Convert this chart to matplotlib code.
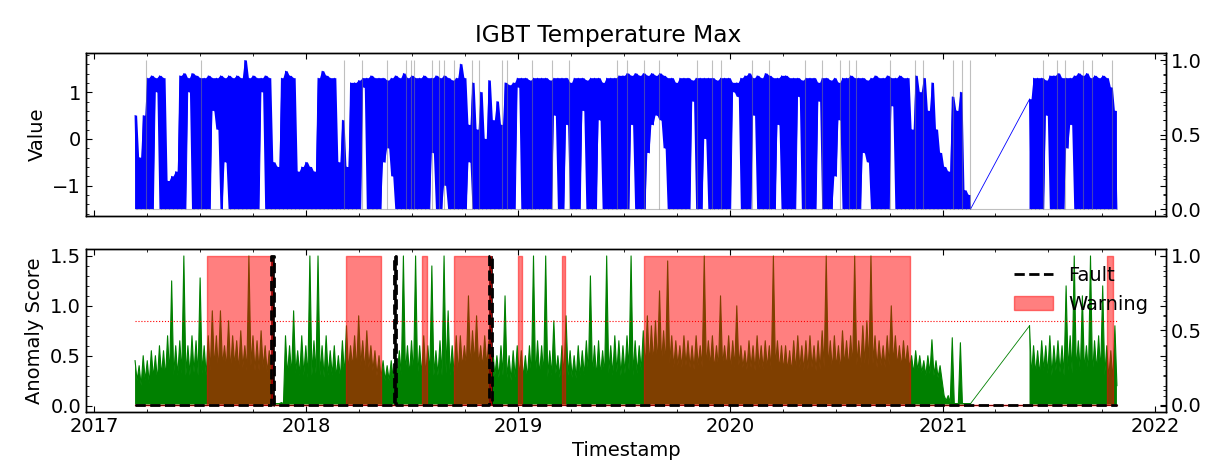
import matplotlib
matplotlib.use("Agg")
import matplotlib.pyplot as plt
import matplotlib.dates as mdates
from matplotlib.ticker import MultipleLocator, AutoMinorLocator
import pandas as pd

# weekly readings of the plot (None = no data, the line jumps over the gap)
first_week = "2017-03-12"

# IGBT temperature max, top and bottom of each week's swing
value_hi = [0.5, -0.4, 0.5, 1.3, 1.35, 1.3, 1.35, 1.3, -0.9, -0.8,
            -0.7, 1.35, 1.4, 1.3, 1.4, 1.35, 1.3, 1.3, 1.35, 1.3,
            1.3, 1.35, 1.3, 1.35, 1.3, 1.35, 1.3, 1.68, 1.3, 1.35,
            1.3, 1.3, 1.35, 1.3, -0.5, -0.6, 1.3, 1.45, 1.35, 1.3,
            -0.7, -0.6, -0.5, -0.6, -0.7, 1.3, 1.45, 1.35, 1.3, 1.3,
            -0.5, 0.4, -0.6, 1.2, 1.2, 1.25, 1.3, 1.3, 1.35, 1.3,
            1.3, 1.3, 1.25, 1.3, 1.35, 1.3, 1.4, 1.3, 1.35, 1.3,
            1.3, 1.35, 1.3, 1.3, 1.35, 1.3, 1.35, 1.3, 1.25, 1.3,
            1.6, 1.3, 0.3, 1.2, 0.2, 1.0, 0.0, 1.25, 0.4, 0.8,
            0.3, 1.2, 1.15, 1.2, 1.3, 1.3, 1.3, 1.25, 1.3, 1.3,
            1.3, 1.3, 1.25, 1.3, 1.3, 1.3, 1.3, 1.2, 1.3, 1.3,
            1.3, 1.25, 1.3, 1.3, 1.3, 1.2, 1.3, 1.3, 1.3, 1.35,
            1.35, 1.4, 1.35, 1.4, 1.35, 1.4, 1.35, 1.4, 1.35, 1.4,
            1.35, 1.3, 1.3, 1.2, 1.3, 1.3, 1.3, 1.25, 1.3, 1.3,
            1.3, 1.3, 1.3, 1.25, 1.3, 1.3, 1.3, 1.2, 1.2, 1.3,
            1.35, 1.4, 1.3, 1.35, 1.3, 1.4, 1.35, 1.3, 1.3, 1.35,
            1.35, 1.3, 1.3, 1.3, 1.25, 1.3, 1.3, 1.3, 1.2, 1.3,
            1.3, 1.25, 1.3, 1.2, 1.3, 1.3, 1.35, 1.3, 1.3, 1.3,
            1.25, 1.3, 1.35, 1.3, 1.3, 1.35, 1.3, 1.3, 1.35, 1.3,
            1.3, 0.2, 1.35, 1.0, 1.3, 0.6, 1.2, 0.2, -0.3, -0.6,
            -0.7, 0.9, 0.6, 1.0, -1.1, -1.2,
            None, None, None, None, None, None, None, None, None, None, None, None, None, None,
            0.85, 1.3, 1.3, 1.3, 1.25, 1.35, 1.35, 1.4, 1.3, 1.3,
            1.3, 1.35, 1.4, 1.35, 1.4, 1.3, 1.35, 1.3, 1.35, 1.3, 1.1, 0.6]

value_lo = [-1.5, -1.5, -1.5, -1.5, -1.5, 1.0, -1.5, -1.5, -1.5, -1.5,
            -1.5, -1.5, -1.5, 1.0, -1.5, -1.5, -1.5, -1.5, -1.5, 0.6,
            0.2, -1.5, -0.5, -1.5, -1.5, -1.5, -1.5, -1.5, -1.5, -1.5,
            -1.5, 1.0, -1.5, -1.5, -1.5, -1.5, -1.5, -1.5, -1.5, -1.5,
            -1.5, -1.5, -1.5, -1.5, -1.5, -1.5, -1.5, -1.5, -1.5, -1.5,
            -1.5, -1.5, -1.5, -1.5, -1.5, -1.5, 1.1, -1.5, -1.5, -1.5,
            -1.5, -0.5, -0.2, -0.8, -1.5, -1.5, -1.5, -1.5, -1.5, -1.5,
            -1.5, -1.5, -1.5, -0.3, -1.5, -1.5, -1.0, -1.5, -1.5, -1.5,
            -1.5, -1.5, -0.5, -1.5, -1.5, -1.5, -1.5, -1.5, -1.5, -1.5,
            -1.5, -1.5, -1.5, -1.5, 1.1, -1.5, -1.5, -1.5, -1.5, -1.5,
            -1.5, -1.5, -1.5, 0.5, -1.5, -1.5, 0.3, -1.5, -1.5, -1.5,
            0.6, -1.5, -1.5, -1.5, 0.4, -1.5, -1.5, -1.5, -1.5, -1.5,
            -1.5, -1.5, 0.3, -1.5, -1.5, -1.5, -0.3, 0.3, 0.5, 0.4,
            -0.2, -1.5, -1.5, -1.5, -1.5, -1.5, -1.5, 0.8, -1.5, -1.5,
            0.0, -1.5, -1.5, -1.5, -1.5, -1.5, -1.5, 1.0, 0.9, -1.5,
            -1.5, -1.5, 0.5, -1.5, -1.5, -1.5, -1.5, -1.5, 0.3, -1.5,
            -1.5, -1.5, -1.5, 0.9, -1.5, -1.5, -1.5, -1.5, 0.8, -1.5,
            -1.5, -1.5, -0.8, 0.4, -1.5, -1.5, -1.5, -1.5, -1.5, -0.3,
            -0.5, -1.5, -1.5, -1.5, -1.5, -1.5, 0.7, -1.5, -1.5, -1.5,
            -1.5, -1.5, -1.5, -1.5, -1.5, -1.5, -1.5, -1.5, -1.5, -1.5,
            -1.5, -1.5, -1.5, -1.5, -1.5, -1.5,
            None, None, None, None, None, None, None, None, None, None, None, None, None, None,
            -1.5, -1.5, -1.5, -1.5, 0.5, -1.5, -1.5, -1.5, -1.5, -0.2,
            0.3, -1.5, -1.5, -1.5, -1.5, -1.5, -1.5, -1.5, -1.5, -1.5, -1.5, -1.5]

# anomaly score: weekly peaks and top of the dense core; floor of the trace
score_hi = [0.45, 0.4, 0.5, 0.45, 0.55, 0.5, 0.6, 0.55, 0.7, 1.25,
            0.6, 0.65, 1.5, 0.6, 0.7, 0.65, 1.28, 0.6, 0.7, 0.95,
            0.7, 0.95, 0.6, 0.85, 0.7, 0.65, 0.75, 0.6, 1.5, 0.7,
            0.65, 0.75, 0.6, 0.55, 0.02, 0.02, 0.03, 0.7, 0.6, 0.95,
            0.55, 0.7, 0.6, 1.5, 0.65, 1.5, 0.6, 0.7, 0.55, 0.6,
            0.5, 0.65, 0.8, 0.6, 0.7, 0.9, 0.65, 0.75, 0.6, 0.55,
            0.5, 0.45, 0.4, 0.45, 0.5, 0.55, 1.5, 0.6, 0.65, 1.5,
            0.6, 0.7, 0.6, 1.4, 0.55, 0.65, 1.5, 0.95, 0.6, 0.7,
            0.7, 0.6, 1.1, 0.75, 0.9, 0.6, 0.7, 0.65, 0.55, 0.5,
            0.6, 1.1, 0.5, 0.55, 0.6, 0.55, 0.5, 0.6, 1.5, 0.65,
            0.6, 1.5, 0.55, 0.85, 0.5, 0.6, 0.9, 0.55, 0.5, 0.6,
            0.55, 0.65, 1.3, 0.6, 0.65, 0.55, 1.5, 0.6, 0.7, 0.65,
            0.6, 0.7, 1.5, 0.65, 0.6, 0.75, 0.9, 0.8, 0.85, 1.15,
            0.75, 1.45, 0.7, 0.65, 0.6, 0.7, 0.65, 0.6, 0.7, 0.6,
            1.5, 0.65, 0.7, 0.6, 1.1, 0.6, 0.7, 0.65, 1.0, 0.6,
            0.55, 0.65, 0.6, 0.7, 0.6, 0.65, 0.6, 1.5, 0.65, 0.6,
            0.6, 0.55, 0.65, 0.7, 0.6, 0.65, 0.7, 0.6, 0.65, 0.75,
            1.5, 0.65, 0.7, 0.6, 0.75, 0.65, 0.7, 1.5, 0.65, 0.8,
            0.85, 1.5, 0.7, 0.65, 0.6, 0.7, 1.0, 0.7, 0.6, 0.65,
            0.6, 0.5, 0.55, 0.5, 0.45, 0.5, 0.66, 0.45, 0.4, 0.1,
            0.1, 0.68, 0.02, 0.63, 0.02, 0.02,
            None, None, None, None, None, None, None, None, None, None, None, None, None, None,
            0.8, 0.6, 0.55, 0.65, 0.6, 0.7, 0.6, 0.65, 0.6, 1.2,
            0.7, 1.5, 0.65, 1.1, 0.6, 1.5, 0.65, 0.7, 1.2, 0.6, 0.55, 0.8]

score_core = [0.25, 0.2, 0.25, 0.22, 0.28, 0.25, 0.3, 0.28, 0.3, 0.3,
              0.3, 0.32, 0.3, 0.3, 0.33, 0.3, 0.32, 0.3, 0.35, 0.38,
              0.35, 0.4, 0.38, 0.35, 0.4, 0.35, 0.38, 0.35, 0.4, 0.35,
              0.35, 0.38, 0.33, 0.3, 0.02, 0.02, 0.02, 0.3, 0.3, 0.32,
              0.3, 0.3, 0.28, 0.3, 0.32, 0.3, 0.28, 0.3, 0.3, 0.28,
              0.27, 0.3, 0.35, 0.38, 0.35, 0.4, 0.35, 0.38, 0.35, 0.3,
              0.28, 0.25, 0.25, 0.27, 0.3, 0.3, 0.32, 0.3, 0.3, 0.28,
              0.3, 0.3, 0.32, 0.3, 0.3, 0.3, 0.32, 0.3, 0.3, 0.32,
              0.38, 0.4, 0.38, 0.42, 0.4, 0.38, 0.4, 0.38, 0.3, 0.28,
              0.3, 0.28, 0.25, 0.28, 0.3, 0.28, 0.27, 0.3, 0.28, 0.3,
              0.3, 0.28, 0.3, 0.32, 0.28, 0.3, 0.3, 0.28, 0.27, 0.3,
              0.3, 0.32, 0.3, 0.28, 0.3, 0.3, 0.32, 0.3, 0.33, 0.3,
              0.32, 0.35, 0.3, 0.32, 0.35, 0.38, 0.4, 0.42, 0.4, 0.42,
              0.4, 0.42, 0.38, 0.4, 0.38, 0.4, 0.38, 0.36, 0.4, 0.38,
              0.38, 0.4, 0.36, 0.38, 0.4, 0.38, 0.36, 0.38, 0.4, 0.38,
              0.36, 0.38, 0.35, 0.38, 0.36, 0.38, 0.35, 0.38, 0.36, 0.35,
              0.35, 0.33, 0.35, 0.38, 0.35, 0.36, 0.38, 0.35, 0.36, 0.38,
              0.38, 0.36, 0.38, 0.35, 0.4, 0.38, 0.38, 0.4, 0.38, 0.42,
              0.4, 0.42, 0.38, 0.4, 0.38, 0.4, 0.42, 0.4, 0.38, 0.4,
              0.38, 0.32, 0.35, 0.33, 0.3, 0.32, 0.3, 0.28, 0.25, 0.05,
              0.03, 0.02, 0.02, 0.02, 0.02, 0.02,
              None, None, None, None, None, None, None, None, None, None, None, None, None, None,
              0.3, 0.32, 0.3, 0.35, 0.32, 0.3, 0.35, 0.33, 0.3, 0.35,
              0.32, 0.35, 0.33, 0.35, 0.32, 0.3, 0.35, 0.33, 0.3, 0.28, 0.25, 0.2]
score_floor = 0.01
threshold = 0.85

warning_windows = [("2017-07-13", "2017-11-03"), ("2018-03-11", "2018-05-10"),
                   ("2018-07-19", "2018-07-28"), ("2018-09-12", "2018-11-14"),
                   ("2019-01-01", "2019-01-07"), ("2019-03-17", "2019-03-22"),
                   ("2019-08-05", "2020-11-06"), ("2021-10-10", "2021-10-20")]
fault_windows = [("2017-11-01", "2017-11-06"), ("2018-06-01", "2018-06-05"),
                 ("2018-11-11", "2018-11-16")]

# gray marks in the top panel (label = 1)
label_dates = ["2017-03-31", "2017-07-04", "2018-03-07", "2018-04-07", "2018-05-19",
               "2018-06-22", "2018-06-30", "2018-07-05", "2018-08-05", "2018-08-17",
               "2018-08-26", "2018-09-12", "2018-10-13", "2018-10-25", "2018-12-04",
               "2018-12-12", "2019-01-25", "2019-02-28", "2019-03-29", "2019-06-20",
               "2019-07-07", "2019-08-05", "2019-08-31", "2019-11-05", "2019-12-01",
               "2019-12-16", "2020-02-08", "2020-03-08", "2020-05-08", "2020-06-06",
               "2020-07-07", "2020-07-24", "2020-08-05", "2020-10-01", "2020-11-13",
               "2020-11-27", "2021-01-18", "2021-02-02", "2021-02-16", "2021-06-22",
               "2021-07-16", "2021-07-30", "2021-08-30", "2021-09-14", "2021-10-19"]

weeks = pd.date_range(first_week, periods=len(value_hi), freq="7D")
half = pd.Timedelta(days=3.5)
nan = float("nan")

# zigzag through the weekly readings, broken where data is missing
t, v, s = [], [], []
band_lo, band_hi = [], []
breaks = []
for i, w in enumerate(weeks):
    if value_hi[i] is None:
        if t and v[-1] == v[-1]:
            breaks.append(len(t))
            t.append(w)
            for col in (v, s, band_lo, band_hi):
                col.append(nan)
        continue
    t += [w, w + half]
    v += [value_hi[i], value_lo[i]]
    s += [score_hi[i], score_core[i]]
    band_lo += [value_lo[i]] * 2
    band_hi += [value_hi[i]] * 2


def steps(windows):
    st, sy = [t[0]], [0]
    for a, b in windows:
        a, b = pd.Timestamp(a), pd.Timestamp(b)
        st += [a, a, b, b]
        sy += [0, 1, 1, 0]
    st.append(t[-1])
    sy.append(0)
    return st, sy


warn_t, warn_y = steps(warning_windows)
fault_t, fault_y = steps(fault_windows)

plt.rcParams["font.size"] = 14
plt.rcParams["axes.linewidth"] = 1.0

fig, (ax1, ax2) = plt.subplots(2, 1, sharex=True, figsize=(12.16, 4.74), dpi=100)
fig.subplots_adjust(left=0.0707, right=0.9589, top=0.8882, bottom=0.1308, hspace=0.196)

ax1.fill_between(t, band_lo, band_hi, color="blue", lw=0)
ax1.plot(t, v, color="blue", lw=0.7)
for k in breaks:
    ax1.plot([t[k - 1], t[k + 1]], [v[k - 1], v[k + 1]], color="blue", lw=0.6)
ax1.set_ylabel("Value")
ax1b = ax1.twinx()
ax1b.vlines(pd.to_datetime(label_dates), 0, 1, color="gray", alpha=0.5, lw=0.8)
ax1b.hlines(0, t[0], t[-1], color="gray", alpha=0.5, lw=0.8)

ax2.fill_between(t, score_floor, s, color="green", lw=0)
ax2.plot(t, s, color="green", lw=0.8)
for k in breaks:
    ax2.plot([t[k - 1], t[k + 1]], [s[k - 1], s[k + 1]], color="green", lw=0.6)
ax2.hlines(threshold, t[0], t[-1], colors="red", linestyles=":", lw=0.8)
ax2.set_ylabel("Anomaly Score")
ax2.set_xlabel("Timestamp")
ax2b = ax2.twinx()
ax2b.plot(fault_t, fault_y, "k--", lw=2, label="Fault")
ax2b.fill_between(fault_t, 0, fault_y, color="k", lw=0.5)
ax2b.fill_between(warn_t, 0, warn_y, color="red", alpha=0.5, label="Warning")
ax2b.legend(loc="upper right", frameon=False)

fig.suptitle("IGBT Temperature Max", y=0.95)

ax1.yaxis.set_major_locator(MultipleLocator(1))
ax2.yaxis.set_major_locator(MultipleLocator(0.5))
for a in (ax1b, ax2b):
    a.yaxis.set_major_locator(MultipleLocator(0.5))
for a in (ax1, ax2, ax1b, ax2b):
    a.yaxis.set_minor_locator(AutoMinorLocator(5))
    a.tick_params(which="both", direction="in")
    a.tick_params(which="major", length=4.5, width=0.8)
    a.tick_params(which="minor", length=2.2, width=0.6)
for a in (ax1, ax2):
    a.tick_params(which="both", top=True, right=True)

ax2.xaxis.set_major_locator(mdates.YearLocator())
ax2.xaxis.set_major_formatter(mdates.DateFormatter("%Y"))
ax2.xaxis.set_minor_locator(mdates.MonthLocator(bymonth=[1, 4, 7, 10]))

fig.savefig("out.png", dpi=100)
